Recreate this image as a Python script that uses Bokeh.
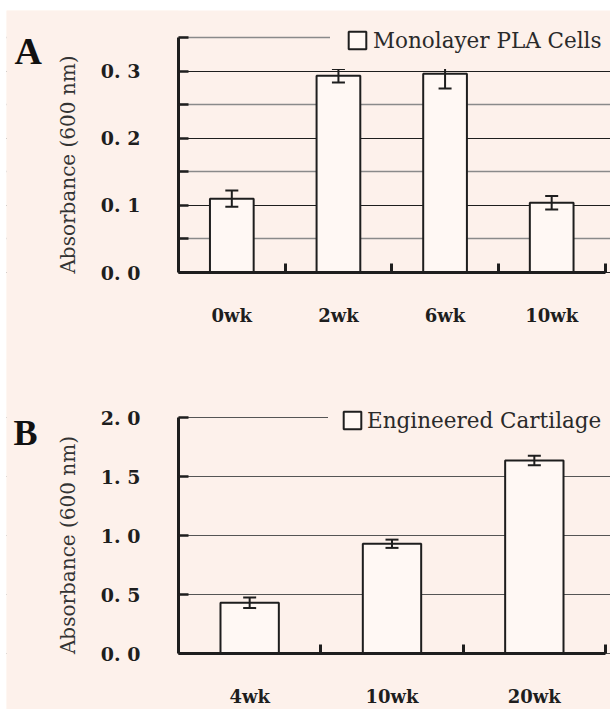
from bokeh.plotting import figure
from bokeh.models import (Range1d, FixedTicker, Whisker, TeeHead, ColumnDataSource,
                          Label, Legend, BoxAnnotation)
from bokeh.layouts import column
from bokeh.embed import file_html
from bokeh.resources import INLINE

# ---------------- data ----------------
a_weeks = ["0wk", "2wk", "6wk", "10wk"]
a_values = [0.110, 0.293, 0.296, 0.104]
a_errors = [0.012, 0.010, 0.022, 0.010]
a_yticks = [0.0, 0.1, 0.2, 0.3]
a_yminor = [0.05, 0.15, 0.25, 0.35]
a_ylabels = ["0. 0", "0. 1", "0. 2", "0. 3"]

b_weeks = ["4wk", "10wk", "20wk"]
b_values = [0.43, 0.93, 1.635]
b_errors = [0.045, 0.035, 0.040]
b_yticks = [0.0, 0.5, 1.0, 1.5, 2.0]
b_ylabels = ["0. 0", "0. 5", "1. 0", "1. 5", "2. 0"]

CREAM = "#fdf1eb"
BARFILL = "#fff8f4"
INK = "#1e1e1e"
SERIF = "DejaVu Serif"
NBSP = "\u00a0"


def make_panel(weeks, values, errors, yticks, yminor, ylabels, ymax, legend_text, letter,
               fig_h, frame_px, major_grid, minor_grid, leg, letter_pos, margin):
    # frame_px: (axis_left, axis_right, axis_top, axis_bottom) in figure pixels
    ax_l, ax_r, ax_t, ax_b = frame_px
    n = len(weeks)
    W = 604
    ux = n / (ax_r - ax_l)
    uy = ymax / (ax_b - ax_t)
    x_range = Range1d(-ax_l * ux, n + (W - ax_r) * ux)
    y_range = Range1d(-(fig_h - ax_b) * uy, ymax + ax_t * uy)

    xs = [i + 0.5 for i in range(n)]
    src = ColumnDataSource(dict(x=xs, top=values,
                                upper=[v + e for v, e in zip(values, errors)],
                                lower=[v - e for v, e in zip(values, errors)]))
    p = figure(width=W, height=fig_h, x_range=x_range, y_range=y_range,
               output_backend="svg", toolbar_location=None,
               background_fill_color=CREAM, border_fill_color=CREAM,
               min_border_left=0, min_border_right=0, min_border_top=0, min_border_bottom=0,
               outline_line_color=None)
    p.margin = margin
    p.xgrid.visible = False

    # x axis at y = 0: labels at centres, boundary ticks as minor ticks
    p.xaxis.fixed_location = 0
    p.xaxis.bounds = (0, n)
    p.xaxis.ticker = FixedTicker(ticks=xs, minor_ticks=[float(i + 1) for i in range(n)])
    p.xaxis.major_label_overrides = {x: w for x, w in zip(xs, weeks)}
    p.xaxis.major_tick_in = 0
    p.xaxis.major_tick_out = 0
    p.xaxis.minor_tick_in = 9
    p.xaxis.minor_tick_out = 0
    p.xaxis.minor_tick_line_width = 3
    p.xaxis.minor_tick_line_color = INK
    p.xaxis.axis_line_width = 3
    p.xaxis.axis_line_color = INK
    p.xaxis.major_label_standoff = 32
    p.xaxis.major_label_text_font = SERIF
    p.xaxis.major_label_text_font_style = "bold"
    p.xaxis.major_label_text_font_size = "18px"
    p.xaxis.major_label_text_color = INK

    yt = FixedTicker(ticks=yticks, minor_ticks=yminor)
    p.yaxis.fixed_location = 0
    p.yaxis.bounds = (0, ymax)
    p.yaxis.ticker = yt
    p.ygrid.ticker = yt
    p.yaxis.major_label_overrides = {t: l for t, l in zip(yticks, ylabels)}
    p.yaxis.major_tick_in = 10
    p.yaxis.major_tick_out = 0
    p.yaxis.minor_tick_in = 10
    p.yaxis.minor_tick_out = 0
    p.yaxis.major_tick_line_width = 2.5
    p.yaxis.minor_tick_line_width = 2.5
    p.yaxis.major_tick_line_color = INK
    p.yaxis.minor_tick_line_color = INK
    p.yaxis.axis_line_width = 3
    p.yaxis.axis_line_color = INK
    p.yaxis.major_label_standoff = 38
    p.yaxis.major_label_text_font = SERIF
    p.yaxis.major_label_text_font_style = "bold"
    p.yaxis.major_label_text_font_size = "19px"
    p.yaxis.major_label_text_color = INK
    p.yaxis.axis_label = "Absorbance (600 nm)" + NBSP * 3
    p.yaxis.axis_label_text_font = SERIF
    p.yaxis.axis_label_text_font_style = "normal"
    p.yaxis.axis_label_text_font_size = "20px"
    p.yaxis.axis_label_text_color = "#333333"
    p.yaxis.axis_label_standoff = 18

    p.ygrid.grid_line_color = major_grid[0]
    p.ygrid.grid_line_width = major_grid[1]
    if minor_grid is not None:
        p.ygrid.minor_grid_line_color = minor_grid[0]
        p.ygrid.minor_grid_line_width = minor_grid[1]

    # hide grid lines left of the y axis
    p.add_layout(BoxAnnotation(right=0, fill_color=CREAM, fill_alpha=1.0,
                               line_color=None, level="underlay"))

    r = p.vbar(x="x", top="top", bottom=0, width=0.41, source=src,
               fill_color=BARFILL, line_color=INK, line_width=2)
    w = Whisker(base="x", upper="upper", lower="lower", source=src, dimension="height",
                line_color=INK, line_width=2, level="overlay",
                upper_head=TeeHead(size=13, line_width=2, line_color=INK),
                lower_head=TeeHead(size=13, line_width=2, line_color=INK))
    p.add_layout(w)

    leg_vx, leg_vy, leg_pad, leg_stand = leg
    lg = Legend(items=[(legend_text, [r])], location=(leg_vx, leg_vy),
                label_text_font=SERIF, label_text_font_size="21.5px",
                label_text_color="#2a2a2a", glyph_width=22, glyph_height=22,
                label_standoff=leg_stand, padding=leg_pad, margin=0, spacing=0,
                background_fill_color=CREAM, background_fill_alpha=1.0,
                border_line_color=CREAM, border_line_alpha=0.0)
    p.add_layout(lg, "center")

    lx, ly, lsize = letter_pos
    p.add_layout(Label(x=lx, y=ly, x_units="screen", y_units="screen", text=letter,
                       text_font="Liberation Serif", text_font_style="bold",
                       text_font_size=lsize, text_color="#111111",
                       text_baseline="alphabetic"))
    return p


# figure A occupies page (6..610, 10..360); figure B page (6..610, 359..709)
pa = make_panel(a_weeks, a_values, a_errors, a_yticks, a_yminor, a_ylabels, 0.35,
                "Monolayer PLA Cells", "A", 350, (172, 598.5, 27, 262),
                ("#1e1e1e", 1), ("#8a8a8a", 1.5), (324, 291.5, 16, 5), (8, 310, "38px"),
                (10, 0, 0, 6))
pb = make_panel(b_weeks, b_values, b_errors, b_yticks, [], b_ylabels, 2.0,
                "Engineered Cartilage", "B", 350, (172, 599, 58, 294),
                ("#555555", 1.2), None, (322, 263.5, 13, 4), (7, 277, "36px"),
                (-1, 0, 0, 6))

layout = column(pa, pb, spacing=0)
open("out.html", "w").write(file_html(layout, INLINE))
